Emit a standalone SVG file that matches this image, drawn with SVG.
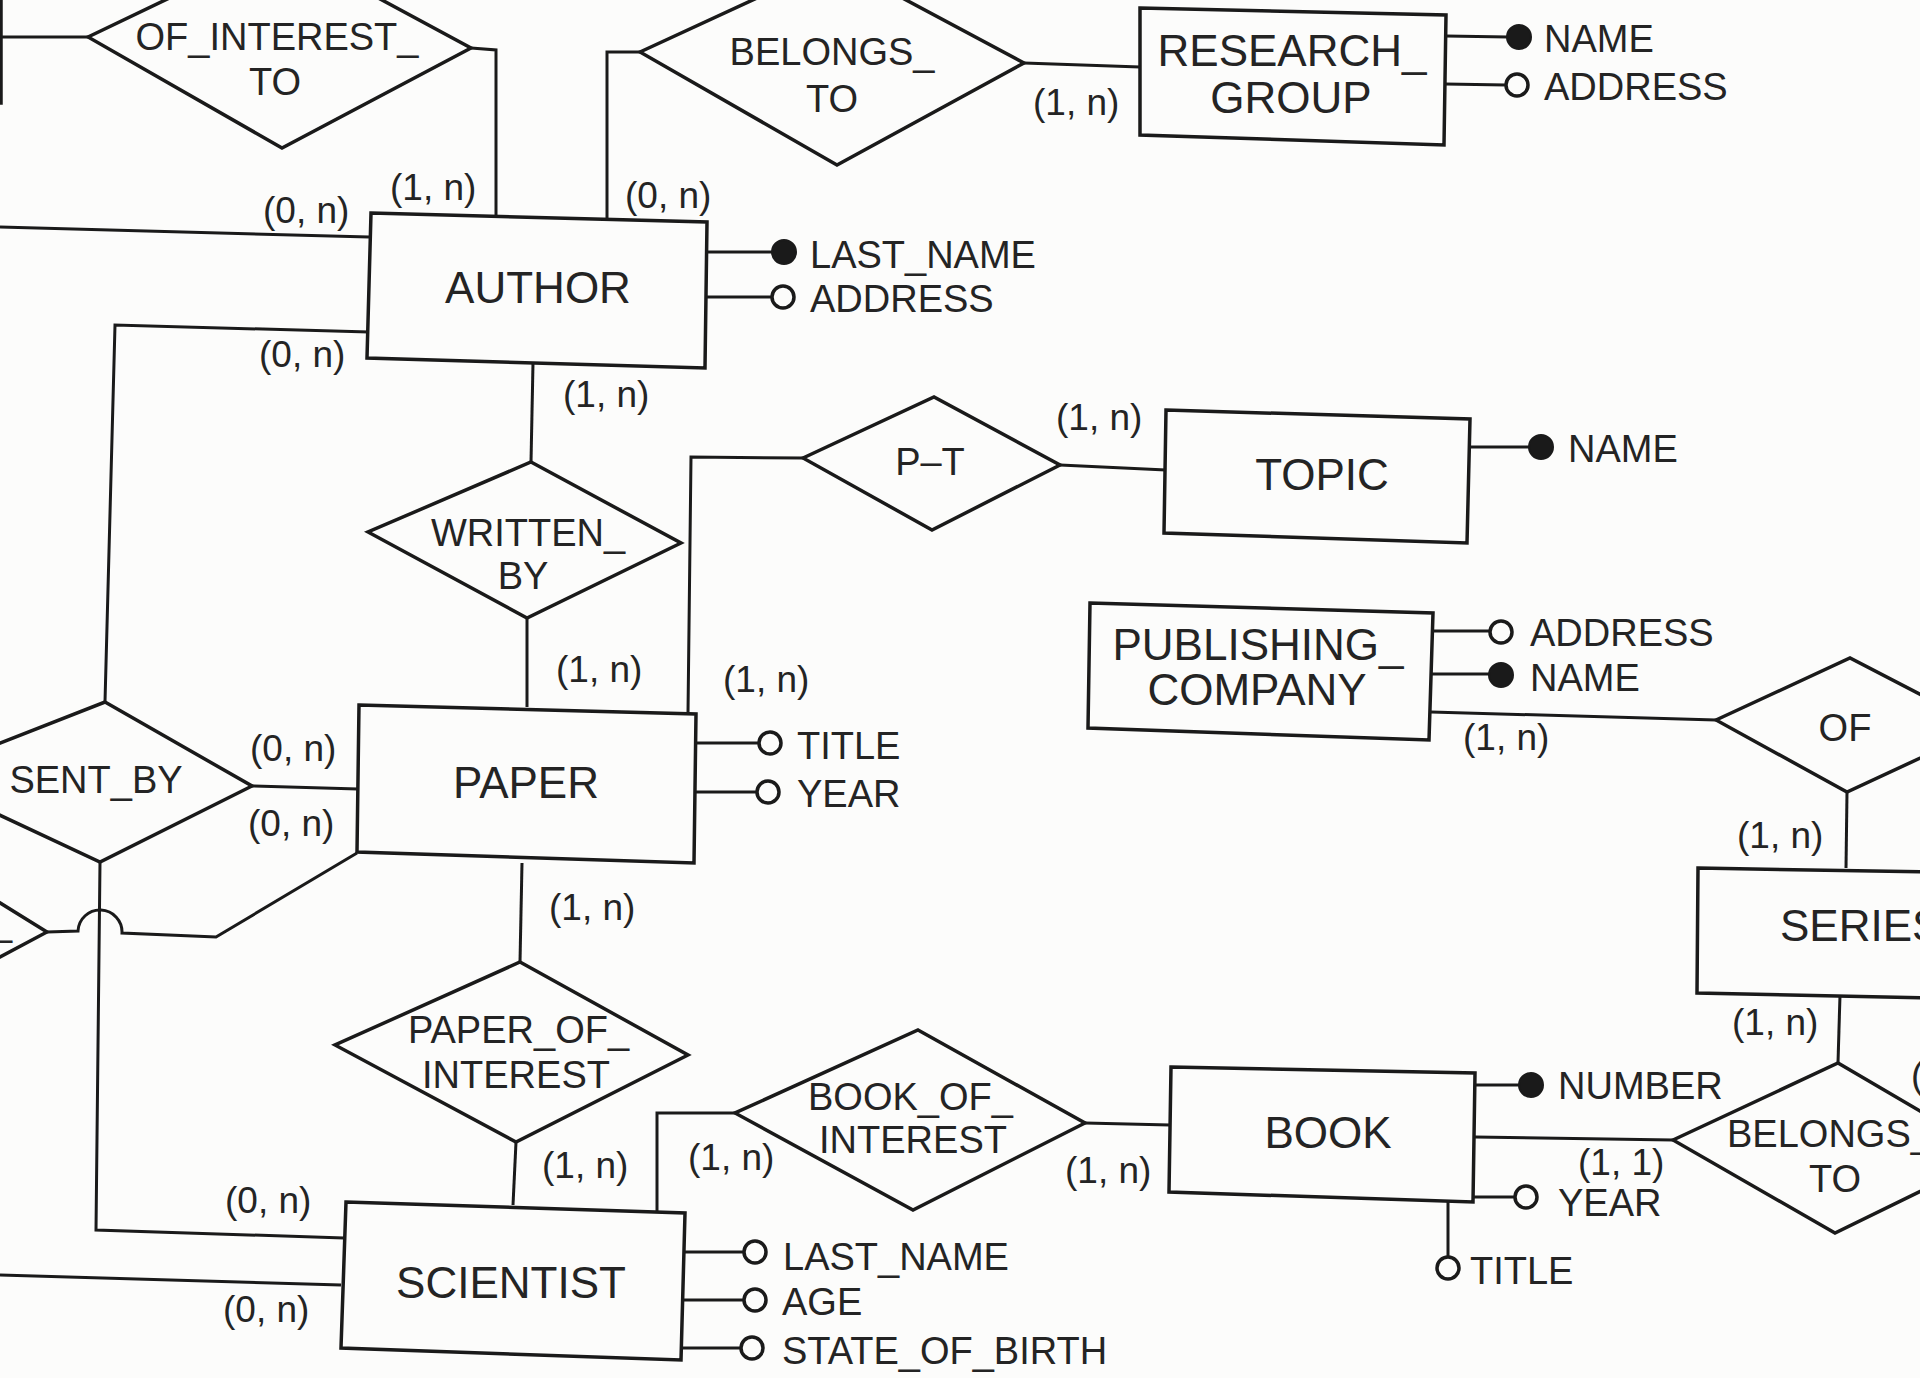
<svg xmlns="http://www.w3.org/2000/svg" width="1920" height="1378" viewBox="0 0 1920 1378">
  <style>
    .shape { fill: none; stroke: #1a1a1a; stroke-width: 3.5; stroke-linejoin: miter; }
    .wire  { fill: none; stroke: #1a1a1a; stroke-width: 3; stroke-linejoin: miter; }
    .key   { fill: #1a1a1a; stroke: #1a1a1a; stroke-width: 2; }
    .opt   { fill: #fcfcfb; stroke: #1a1a1a; stroke-width: 3.5; }
    text   { font-family: "Liberation Sans", Arial, Helvetica, sans-serif; fill: #242424; }
    .ent   { font-size: 44px; text-anchor: middle; }
    .rel   { font-size: 38px; text-anchor: middle; }
    .rel-s { font-size: 38px; text-anchor: start; }
    .attr  { font-size: 38px; }
    .card  { font-size: 37px; }
  </style>

  <rect x="0" y="0" width="1920" height="1378" fill="#fcfcfb"/>

  <!-- entity cut at the left page border -->
  <g id="entity-offpage-left">
    <polyline class="shape" points="-300,103 1,103 1,-20"/>
  </g>

  <!-- relationship cut at the left page border -->
  <g id="relationship-offpage-left">
    <polygon class="shape" points="47,932 -100,841 -250,930 -100,1010"/>
    <text class="rel-s" x="-9" y="935">_</text>
  </g>

  <!-- ============ entities ============ -->
  <g id="author">
    <polygon class="shape" points="371,213 707,222 705,368 367,358"/>
    <text class="ent" x="538" y="303">AUTHOR</text>
    <line class="wire" x1="707" y1="252" x2="772" y2="252"/>
    <circle class="key" cx="784" cy="252" r="12"/>
    <text class="attr" x="810" y="268">LAST_NAME</text>
    <line class="wire" x1="707" y1="297" x2="772" y2="297"/>
    <circle class="opt" cx="783" cy="297" r="11"/>
    <text class="attr" x="810" y="312">ADDRESS</text>
  </g>

  <g id="research-group">
    <polygon class="shape" points="1140,8 1446,15 1444,145 1140,135"/>
    <text class="ent" x="1292" y="66">RESEARCH_</text>
    <text class="ent" x="1291" y="113">GROUP</text>
    <line class="wire" x1="1446" y1="36" x2="1508" y2="37"/>
    <circle class="key" cx="1519" cy="37" r="12"/>
    <text class="attr" x="1544" y="52">NAME</text>
    <line class="wire" x1="1445" y1="84" x2="1506" y2="85"/>
    <circle class="opt" cx="1517" cy="85" r="11"/>
    <text class="attr" x="1544" y="100">ADDRESS</text>
  </g>

  <g id="topic">
    <polygon class="shape" points="1166,410 1470,419 1467,543 1164,533"/>
    <text class="ent" x="1322" y="490">TOPIC</text>
    <line class="wire" x1="1469" y1="447" x2="1530" y2="447"/>
    <circle class="key" cx="1541" cy="447" r="12"/>
    <text class="attr" x="1568" y="462">NAME</text>
  </g>

  <g id="publishing-company">
    <polygon class="shape" points="1090,603 1433,613 1429,740 1088,728"/>
    <text class="ent" x="1258" y="660">PUBLISHING_</text>
    <text class="ent" x="1257" y="705">COMPANY</text>
    <line class="wire" x1="1433" y1="631" x2="1490" y2="631"/>
    <circle class="opt" cx="1501" cy="632" r="11"/>
    <text class="attr" x="1530" y="646">ADDRESS</text>
    <line class="wire" x1="1432" y1="674" x2="1490" y2="674"/>
    <circle class="key" cx="1501" cy="675" r="12"/>
    <text class="attr" x="1530" y="691">NAME</text>
  </g>

  <g id="paper">
    <polygon class="shape" points="359,705 696,714 694,863 357,852"/>
    <text class="ent" x="526" y="798">PAPER</text>
    <line class="wire" x1="695" y1="743" x2="759" y2="743"/>
    <circle class="opt" cx="770" cy="743" r="11"/>
    <text class="attr" x="797" y="759">TITLE</text>
    <line class="wire" x1="695" y1="792" x2="757" y2="792"/>
    <circle class="opt" cx="768" cy="792" r="11"/>
    <text class="attr" x="797" y="807">YEAR</text>
  </g>

  <g id="series">
    <polygon class="shape" points="1698,868 1930,872 1930,998 1697,993"/>
    <text class="ent" x="1780" y="941" style="text-anchor:start">SERIES</text>
  </g>

  <g id="book">
    <polygon class="shape" points="1171,1067 1475,1073 1473,1202 1169,1192"/>
    <text class="ent" x="1328" y="1148">BOOK</text>
    <line class="wire" x1="1475" y1="1085" x2="1520" y2="1085"/>
    <circle class="key" cx="1531" cy="1085" r="12"/>
    <text class="attr" x="1558" y="1099">NUMBER</text>
    <line class="wire" x1="1473" y1="1197" x2="1515" y2="1197"/>
    <circle class="opt" cx="1526" cy="1197" r="11"/>
    <text class="attr" x="1558" y="1216">YEAR</text>
    <line class="wire" x1="1448" y1="1200" x2="1448" y2="1257"/>
    <circle class="opt" cx="1448" cy="1268" r="11"/>
    <text class="attr" x="1470" y="1284">TITLE</text>
  </g>

  <g id="scientist">
    <polygon class="shape" points="346,1202 685,1213 681,1360 341,1348"/>
    <text class="ent" x="511" y="1298">SCIENTIST</text>
    <line class="wire" x1="683" y1="1252" x2="744" y2="1252"/>
    <circle class="opt" cx="755" cy="1252" r="11"/>
    <text class="attr" x="783" y="1270">LAST_NAME</text>
    <line class="wire" x1="682" y1="1300" x2="744" y2="1300"/>
    <circle class="opt" cx="755" cy="1300" r="11"/>
    <text class="attr" x="782" y="1315">AGE</text>
    <line class="wire" x1="681" y1="1348" x2="741" y2="1348"/>
    <circle class="opt" cx="752" cy="1348" r="11"/>
    <text class="attr" x="782" y="1364">STATE_OF_BIRTH</text>
  </g>

  <!-- ============ relationships ============ -->
  <g id="of-interest-to">
    <polygon class="shape" points="88,37 280,-55 471,48 282,148"/>
    <text class="rel" x="277" y="50">OF_INTEREST_</text>
    <text class="rel" x="275" y="95">TO</text>
  </g>

  <g id="belongs-to-group">
    <polygon class="shape" points="640,52 835,-38 1024,63 837,165"/>
    <text class="rel" x="832" y="65">BELONGS_</text>
    <text class="rel" x="832" y="112">TO</text>
  </g>

  <g id="written-by">
    <polygon class="shape" points="531,462 681,543 527,618 368,532"/>
    <text class="rel" x="528" y="546">WRITTEN_</text>
    <text class="rel" x="523" y="589">BY</text>
  </g>

  <g id="p-t">
    <polygon class="shape" points="803,458 934,397 1060,465 932,530"/>
    <text class="rel" x="930" y="475">P–T</text>
  </g>

  <g id="sent-by">
    <polygon class="shape" points="105,702 252,786 100,862 -84,776"/>
    <text class="rel" x="96" y="793">SENT_BY</text>
  </g>

  <g id="paper-of-interest">
    <polygon class="shape" points="520,962 688,1055 516,1142 335,1045"/>
    <text class="rel-s" x="408" y="1043">PAPER_OF_</text>
    <text class="rel" x="516" y="1088">INTEREST</text>
  </g>

  <g id="book-of-interest">
    <polygon class="shape" points="918,1030 1085,1123 913,1210 735,1113"/>
    <text class="rel-s" x="808" y="1110">BOOK_OF_</text>
    <text class="rel" x="913" y="1153">INTEREST</text>
  </g>

  <g id="of">
    <polygon class="shape" points="1716,720 1850,658 1985,728 1847,792"/>
    <text class="rel" x="1845" y="741">OF</text>
  </g>

  <g id="belongs-to-series">
    <polygon class="shape" points="1673,1140 1838,1063 1995,1155 1835,1233"/>
    <text class="rel-s" x="1727" y="1147">BELONGS_</text>
    <text class="rel" x="1835" y="1192">TO</text>
  </g>

  <!-- ============ connectors ============ -->
  <g id="connectors">
    <path class="wire" d="M0 37 L88 37"/>
    <path class="wire" d="M471 48 L496 50 L496 215"/>
    <path class="wire" d="M0 227 L369 237"/>
    <path class="wire" d="M640 52 L607 52 L607 220"/>
    <path class="wire" d="M1024 63 L1140 67"/>
    <path class="wire" d="M369 332 L115 325 L105 702"/>
    <path class="wire" d="M533 363 L531 462"/>
    <path class="wire" d="M527 618 L527 707"/>
    <path class="wire" d="M803 458 L691 457 L688 713"/>
    <path class="wire" d="M1060 465 L1166 470"/>
    <path class="wire" d="M252 786 L358 789"/>
    <path class="wire" d="M100 862 L96 1230 L344 1238"/>
    <path class="wire" d="M357 853 L216 937 L122 933 A22 22 0 0 0 78 931 L47 932"/>
    <path class="wire" d="M522 863 L520 962"/>
    <path class="wire" d="M516 1142 L513 1205"/>
    <path class="wire" d="M0 1275 L341 1285"/>
    <path class="wire" d="M735 1113 L657 1113 L657 1211"/>
    <path class="wire" d="M1085 1123 L1170 1125"/>
    <path class="wire" d="M1431 712 L1716 720"/>
    <path class="wire" d="M1847 792 L1846 868"/>
    <path class="wire" d="M1840 995 L1838 1063"/>
    <path class="wire" d="M1475 1137 L1673 1140"/>

    <!-- cardinalities -->
    <text class="card" x="390" y="200">(1, n)</text>
    <text class="card" x="263" y="223">(0, n)</text>
    <text class="card" x="625" y="208">(0, n)</text>
    <text class="card" x="1033" y="115">(1, n)</text>
    <text class="card" x="259" y="367">(0, n)</text>
    <text class="card" x="563" y="407">(1, n)</text>
    <text class="card" x="1056" y="430">(1, n)</text>
    <text class="card" x="556" y="682">(1, n)</text>
    <text class="card" x="723" y="692">(1, n)</text>
    <text class="card" x="250" y="761">(0, n)</text>
    <text class="card" x="248" y="836">(0, n)</text>
    <text class="card" x="549" y="920">(1, n)</text>
    <text class="card" x="1463" y="750">(1, n)</text>
    <text class="card" x="1737" y="848">(1, n)</text>
    <text class="card" x="1732" y="1035">(1, n)</text>
    <text class="card" x="1578" y="1175">(1, 1)</text>
    <text class="card" x="542" y="1178">(1, n)</text>
    <text class="card" x="688" y="1170">(1, n)</text>
    <text class="card" x="1065" y="1183">(1, n)</text>
    <text class="card" x="225" y="1213">(0, n)</text>
    <text class="card" x="223" y="1322">(0, n)</text>
    <text class="card" x="1911" y="1088">(1, n)</text>
  </g>
</svg>
